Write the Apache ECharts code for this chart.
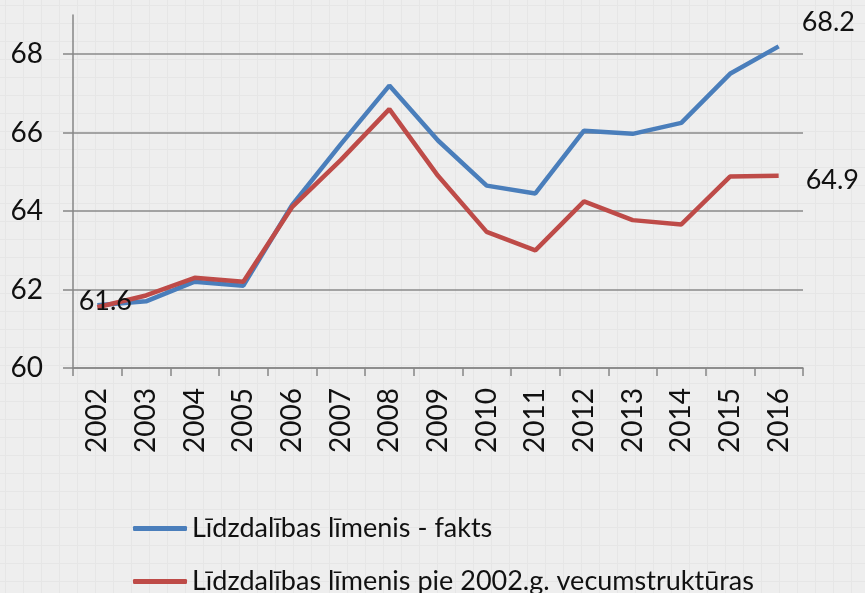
<!DOCTYPE html>
<html lang="lv">
<head>
    <meta charset="utf-8">
    <script src="https://cdn.jsdelivr.net/npm/echarts@6/dist/echarts.min.js"></script>
    <style>
        html, body { margin: 0; padding: 0; background: #eeeeee; }
        #chart {
            width: 865px; height: 593px;
            background-color: #eeeeee;
            background-image:
                linear-gradient(to right, #e6e6e6 1px, transparent 1px),
                linear-gradient(to bottom, #e6e6e6 1px, transparent 1px);
            background-size: 18px 18px;
            background-position: 5px 5px;
        }
    </style>
</head>
<body>
<div id="chart"></div>
<script>
    var years = ['2002','2003','2004','2005','2006','2007','2008','2009','2010','2011','2012','2013','2014','2015','2016'];
    var fakts = [61.6, 61.7, 62.2, 62.1, 64.15, 65.7, 67.2, 65.8, 64.65, 64.45, 66.05, 65.97, 66.25, 67.5, 68.2];
    var struktura = [61.55, 61.85, 62.3, 62.2, 64.1, 65.3, 66.6, 64.9, 63.47, 63.0, 64.25, 63.77, 63.66, 64.88, 64.9];
    var yTicks = [60, 62, 64, 66, 68];
    var seriesNames = ['Līdzdalības līmenis - fakts', 'Līdzdalības līmenis pie 2002.g. vecumstruktūras'];

    var font = 'Lato, "Open Sans", sans-serif';

    // etiķetes tikai atsevišķiem punktiem
    function withLabels(arr, labels) {
        return arr.map(function (v, i) {
            if (labels[i]) {
                return { value: v, label: Object.assign({ show: true, formatter: labels[i].text }, labels[i].opt) };
            }
            return v;
        });
    }

    var lblStyle = { color: '#111', fontSize: 27, fontFamily: font };

    var chart = echarts.init(document.getElementById('chart'));
    chart.setOption({
        backgroundColor: 'transparent',
        animation: false,
        grid: { left: 73, right: 62, top: 15, bottom: 225 },
        legend: {
            orient: 'vertical',
            left: 133,
            top: 515,
            height: 120,
            padding: 0,
            itemGap: 26,
            itemWidth: 54,
            itemHeight: 5,
            icon: 'roundRect',
            textStyle: { color: '#111', fontSize: 27, fontFamily: font },
            data: seriesNames
        },
        xAxis: {
            type: 'category',
            data: years,
            boundaryGap: true,
            axisLine: { lineStyle: { color: '#868686', width: 1.5 } },
            axisTick: { show: true, length: 8, lineStyle: { color: '#868686', width: 1.5 } },
            axisLabel: { rotate: 90, margin: 20, color: '#111', fontSize: 28, fontFamily: font }
        },
        yAxis: {
            type: 'value',
            min: 60,
            max: 69,
            interval: 2,
            axisLine: { show: true, lineStyle: { color: '#868686', width: 1.5 } },
            axisTick: { show: true, length: 10, customValues: yTicks, lineStyle: { color: '#868686', width: 1.5 } },
            axisLabel: { margin: 30, customValues: yTicks, color: '#111', fontSize: 28, fontFamily: font },
            splitLine: { show: true, lineStyle: { color: '#8a8a8a', width: 1.5 } }
        },
        series: [
            {
                name: seriesNames[0],
                type: 'line',
                data: withLabels(fakts, { 14: { text: '68.2', opt: Object.assign({ position: 'right', offset: [18, -24] }, lblStyle) } }),
                symbol: 'circle',
                symbolSize: 0,
                showSymbol: true,
                lineStyle: { color: '#4a7ebb', width: 4.5 },
                itemStyle: { color: '#4a7ebb' },
                z: 2
            },
            {
                name: seriesNames[1],
                type: 'line',
                data: withLabels(struktura, {
                    0: { text: '61.6', opt: Object.assign({ position: 'inside', offset: [8, -6] }, lblStyle) },
                    14: { text: '64.9', opt: Object.assign({ position: 'right', offset: [22, 4] }, lblStyle) }
                }),
                symbol: 'circle',
                symbolSize: 0,
                showSymbol: true,
                lineStyle: { color: '#be4b48', width: 4.5 },
                itemStyle: { color: '#be4b48' },
                z: 3
            }
        ]
    });
</script>
</body>
</html>
